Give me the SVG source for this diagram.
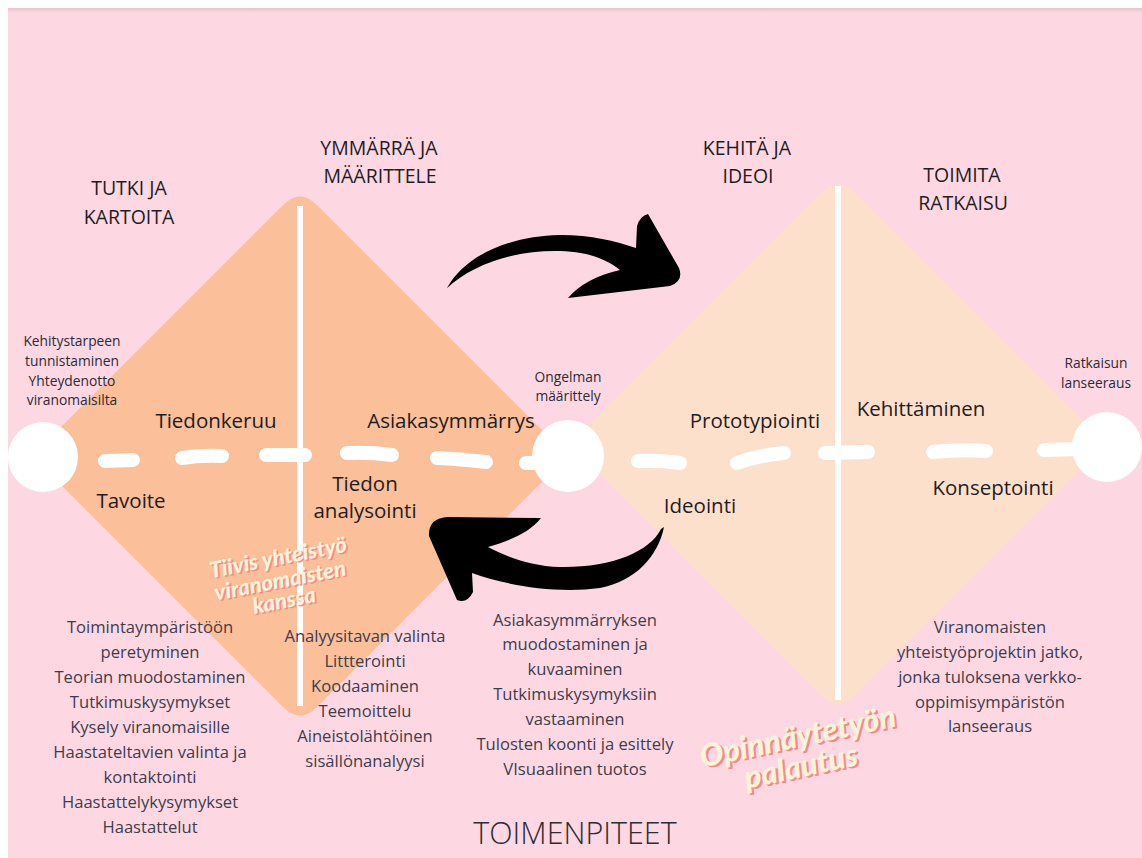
<svg xmlns="http://www.w3.org/2000/svg" width="1142" height="858" viewBox="0 0 1142 858">
<defs>
<linearGradient id="topShade" x1="0" y1="0" x2="0" y2="1">
<stop offset="0" stop-color="#e6c3cd"/>
<stop offset="1" stop-color="#fdd8e3"/>
</linearGradient>
<style>
.head{font-family:"Open Sans","Liberation Sans",sans-serif;font-size:19.5px;fill:#1d1d22;text-anchor:middle;}
.mid{font-family:"Open Sans","Liberation Sans",sans-serif;font-size:20.5px;fill:#1d1d22;text-anchor:middle;}
.small{font-family:"Open Sans","Liberation Sans",sans-serif;font-size:13.8px;fill:#2b2b35;text-anchor:middle;}
.item{font-family:"Open Sans","Liberation Sans",sans-serif;font-size:16.6px;fill:#3d3d4c;text-anchor:middle;}
.title{font-family:"Open Sans","Liberation Sans",sans-serif;font-size:30.5px;font-weight:300;fill:#2c2c33;text-anchor:middle;}
.script{font-family:"Lato","DejaVu Sans",sans-serif;font-weight:900;font-style:italic;text-anchor:middle;}
.scriptSh{fill:#f08d87;}
.scriptFg{fill:#fbf2da;}
.dash{fill:none;stroke:#ffffff;stroke-width:14;stroke-linecap:round;}
.vline{stroke:#ffffff;stroke-width:6;}
.node{fill:#ffffff;}
.arrow{fill:#000000;}
</style>
</defs>

<rect x="0" y="0" width="1142" height="858" fill="#ffffff"/>
<rect x="8" y="8" width="1134" height="850" fill="#fdd8e3"/>
<rect x="8" y="8" width="1134" height="5" fill="url(#topShade)"/>

<g id="diamond-left">
<path d="M 283 205 Q 300 188 317 205 L 568 456 L 317 707 Q 300 724 283 707 L 32 456 Z" fill="#fbbf99"/>
</g>
<g id="diamond-right">
<path d="M 821 193 Q 838 176 855 193 L 1106 444 L 855 695 Q 838 712 821 695 L 570 444 Z" fill="#fde0cc"/>
</g>
<g id="dividers">
<line class="vline" x1="300" y1="206" x2="300" y2="706"/>
<line class="vline" x1="838" y1="186" x2="838" y2="700"/>
</g>

<g id="connectors">
<path class="dash" d="M 105 461 L 133 460"/>
<path class="dash" d="M 182 458 Q 200 455 222 456"/>
<path class="dash" d="M 266 455 L 305 455"/>
<path class="dash" d="M 347 453 Q 370 452 392 455"/>
<path class="dash" d="M 437 458 Q 460 459 486 462"/>
<path class="dash" d="M 526 463 L 540 463"/>
<path class="dash" d="M 638 461 Q 660 460 680 463"/>
<path class="dash" d="M 737 463 Q 760 455 784 453"/>
<path class="dash" d="M 825 453 L 868 452"/>
<path class="dash" d="M 933 452 Q 960 449 986 451"/>
<path class="dash" d="M 1044 450 L 1080 449"/>
<path class="arrow" d="M 447 288 C 465 255 510 236 560 235 C 592 235 615 241 636 248 L 637 226 Q 640 216 648 214 L 679 268 Q 684 281 670 286 L 568 298 Q 585 278 620 270 C 605 258 585 251 555 251 C 512 251 472 265 447 288 Z"/>
<path class="arrow" d="M 661 529 C 650 552 610 568 560 567 C 530 566 505 556 488 547 C 512 540 530 532 541 518 L 448 517 Q 428 518 429 536 L 457 600 Q 467 604 473 592 L 472 573 C 505 585 555 594 600 588 C 636 581 658 556 664 527 Z"/>
</g>

<g id="node-start">
<circle class="node" cx="43" cy="457" r="35"/>
<text class="small" x="72" y="346">Kehitystarpeen</text>
<text class="small" x="72" y="366">tunnistaminen</text>
<text class="small" x="72" y="386">Yhteydenotto</text>
<text class="small" x="72" y="405">viranomaisilta</text>
</g>
<g id="node-middle">
<circle class="node" cx="568" cy="456" r="36"/>
<text class="small" x="568" y="382">Ongelman</text>
<text class="small" x="568" y="401">määrittely</text>
</g>
<g id="node-end">
<circle class="node" cx="1107" cy="447" r="35"/>
<text class="small" x="1096" y="368">Ratkaisun</text>
<text class="small" x="1096" y="388">lanseeraus</text>
</g>

<g id="phase-tutki">
<text class="head" x="129" y="195">TUTKI JA</text>
<text class="head" x="129" y="224">KARTOITA</text>
<text class="mid" x="216" y="428">Tiedonkeruu</text>
<text class="mid" x="131" y="508">Tavoite</text>
<text class="item" x="150" y="633">Toimintaympäristöön</text>
<text class="item" x="150" y="658">peretyminen</text>
<text class="item" x="150" y="683">Teorian muodostaminen</text>
<text class="item" x="150" y="708">Tutkimuskysymykset</text>
<text class="item" x="150" y="733">Kysely viranomaisille</text>
<text class="item" x="150" y="758">Haastateltavien valinta ja</text>
<text class="item" x="150" y="783">kontaktointi</text>
<text class="item" x="150" y="808">Haastattelykysymykset</text>
<text class="item" x="150" y="833">Haastattelut</text>
</g>

<g id="phase-ymmarra">
<text class="head" x="379" y="155">YMMÄRRÄ JA</text>
<text class="head" x="380" y="183">MÄÄRITTELE</text>
<text class="mid" x="451" y="428">Asiakasymmärrys</text>
<text class="mid" x="365" y="491">Tiedon</text>
<text class="mid" x="365" y="518">analysointi</text>
<text class="item" x="365" y="642">Analyysitavan valinta</text>
<text class="item" x="365" y="667">Littterointi</text>
<text class="item" x="365" y="692">Koodaaminen</text>
<text class="item" x="365" y="717">Teemoittelu</text>
<text class="item" x="365" y="742">Aineistolähtöinen</text>
<text class="item" x="365" y="767">sisällönanalyysi</text>
</g>

<g id="phase-kehita">
<text class="head" x="747" y="155">KEHITÄ JA</text>
<text class="head" x="748" y="183">IDEOI</text>
<text class="mid" x="755" y="428">Prototypiointi</text>
<text class="mid" x="700" y="513">Ideointi</text>
<text class="item" x="575" y="626">Asiakasymmärryksen</text>
<text class="item" x="575" y="650">muodostaminen ja</text>
<text class="item" x="575" y="675">kuvaaminen</text>
<text class="item" x="575" y="700">Tutkimuskysymyksiin</text>
<text class="item" x="575" y="725">vastaaminen</text>
<text class="item" x="575" y="750">Tulosten koonti ja esittely</text>
<text class="item" x="575" y="775">VIsuaalinen tuotos</text>
</g>

<g id="phase-toimita">
<text class="head" x="962" y="182">TOIMITA</text>
<text class="head" x="963" y="210">RATKAISU</text>
<text class="mid" x="921" y="416">Kehittäminen</text>
<text class="mid" x="993" y="495">Konseptointi</text>
<text class="item" x="990" y="633">Viranomaisten</text>
<text class="item" x="990" y="658">yhteistyöprojektin jatko,</text>
<text class="item" x="990" y="683">jonka tuloksena verkko-</text>
<text class="item" x="990" y="708">oppimisympäristön</text>
<text class="item" x="990" y="732">lanseeraus</text>
</g>

<g id="note-yhteistyo" class="script" font-size="22">
<g transform="translate(278,557) rotate(-11)">
<text class="scriptSh" x="1.5" y="9.5">Tiivis yhteistyö</text>
<text class="scriptFg" x="0" y="8">Tiivis yhteistyö</text>
</g>
<g transform="translate(280,580) rotate(-11)">
<text class="scriptSh" x="1.5" y="9.5">viranomaisten</text>
<text class="scriptFg" x="0" y="8">viranomaisten</text>
</g>
<g transform="translate(284,600) rotate(-11)">
<text class="scriptSh" x="1.5" y="9.5">kanssa</text>
<text class="scriptFg" x="0" y="8">kanssa</text>
</g>
</g>

<g id="note-palautus" class="script" font-size="31">
<g transform="translate(798,737) rotate(-12)">
<text class="scriptSh" x="2" y="12">Opinnäytetyön</text>
<text class="scriptFg" x="0" y="10">Opinnäytetyön</text>
</g>
<g transform="translate(801,767) rotate(-12)">
<text class="scriptSh" x="2" y="12">palautus</text>
<text class="scriptFg" x="0" y="10">palautus</text>
</g>
</g>

<g id="title">
<text class="title" x="575" y="844">TOIMENPITEET</text>
</g>
</svg>
